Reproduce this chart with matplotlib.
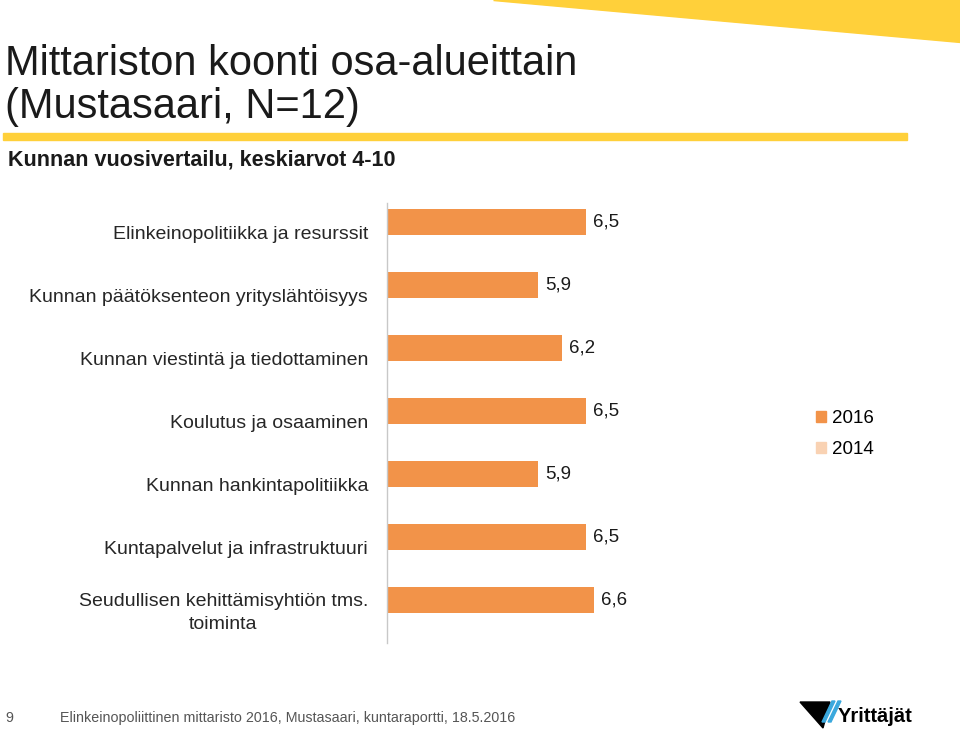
import numpy as np
import matplotlib
matplotlib.use('Agg')
import matplotlib.pyplot as plt
from matplotlib.patches import Patch, Polygon, Rectangle

# data
categories = ['Elinkeinopolitiikka ja resurssit',
              'Kunnan päätöksenteon yrityslähtöisyys',
              'Kunnan viestintä ja tiedottaminen',
              'Koulutus ja osaaminen',
              'Kunnan hankintapolitiikka',
              'Kuntapalvelut ja infrastruktuuri',
              'Seudullisen kehittämisyhtiön tms.\ntoiminta']
v2016 = [6.5, 5.9, 6.2, 6.5, 5.9, 6.5, 6.6]
series = ['2016', '2014']

orange = '#F29349'
peach = '#F9D2B3'
yellow = '#FFD03A'
plt.rcParams['font.family'] = ['Liberation Sans', 'DejaVu Sans']

fig = plt.figure(figsize=(9.6, 7.3), dpi=100)

# yellow decorations
fig.patches.append(Polygon([[493/960, 1], [1, 1], [1, 1-42/730]], closed=True,
                           transform=fig.transFigure, color=yellow, zorder=0))
fig.patches.append(Rectangle((3/960, 1-140/730), 904/960, 7/730,
                             transform=fig.transFigure, color=yellow, zorder=0))

fig.text(5/960, 1-75/730, 'Mittariston koonti osa-alueittain',
         fontsize=30, color='#1a1a1a', va='baseline')
fig.text(5/960, 1-118/730, '(Mustasaari, N=12)',
         fontsize=30, color='#1a1a1a', va='baseline')
fig.text(8/960, 1-160/730, 'Kunnan vuosivertailu, keskiarvot 4-10',
         fontsize=15.5, fontweight='bold', color='#1a1a1a', va='center')

ax = fig.add_axes([387/960, 1-643/730, (865-387)/960, (643-203)/730])
pos = np.arange(len(categories))
bars = ax.barh(pos, np.array(v2016) - 4, left=4, height=0.4, color=orange)
ax.set_xlim(4, 10)
ax.set_ylim(len(categories) - 1 + 43/63, -19/63)
ax.set_yticks([])
ax.set_xticks([])
for s in ['top', 'right', 'bottom']:
    ax.spines[s].set_visible(False)
ax.spines['left'].set_color('#c8c8c8')
ax.spines['left'].set_linewidth(1)

# category labels sit at the centre of the 2016/2014 pair (2014 has no bars)
for p, lab in zip(pos, categories):
    ax.text(-19/478, p + 0.2, lab, transform=ax.get_yaxis_transform(),
            ha='right', va='center', multialignment='center', linespacing=1.45,
            fontsize=14, color='#262626')

for b, v in zip(bars, v2016):
    ax.annotate(f'{v:.1f}'.replace('.', ','), (b.get_x() + b.get_width(), b.get_y() + b.get_height() / 2),
                xytext=(5, 0), textcoords='offset points', va='center', ha='left',
                fontsize=13.5, color='#1a1a1a')

handles = [Patch(color=orange, label=series[0]), Patch(color=peach, label=series[1])]
fig.legend(handles=handles, loc='upper left', bbox_to_anchor=(799/960, 1-393/730),
           frameon=False, fontsize=13.5, handlelength=0.55, handleheight=0.55,
           handletextpad=0.3, labelspacing=0.75)

# footer
fig.text(5/960, 1-718/730, '9', fontsize=10.3, color='#555555', va='center')
fig.text(60/960, 1-718/730,
         'Elinkeinopoliittinen mittaristo 2016, Mustasaari, kuntaraportti, 18.5.2016',
         fontsize=10.3, color='#555555', va='center')

# logo
fig.patches.append(Polygon([[800/960, 1-702/730], [830/960, 1-702/730], [823/960, 1-728/730]],
                           closed=True, transform=fig.transFigure, color='black'))
for dx in (0, 6):
    fig.patches.append(Polygon([[(822+dx)/960, 1-722/730], [(832+dx)/960, 1-701/730],
                                [(835+dx)/960, 1-701/730], [(825+dx)/960, 1-722/730]],
                               closed=True, transform=fig.transFigure, color='#3aa8dd'))
fig.text(838/960, 1-717/730, 'Yrittäjät', fontsize=14.5, fontweight='bold',
         color='black', va='center')

fig.savefig('out.png', dpi=100)
